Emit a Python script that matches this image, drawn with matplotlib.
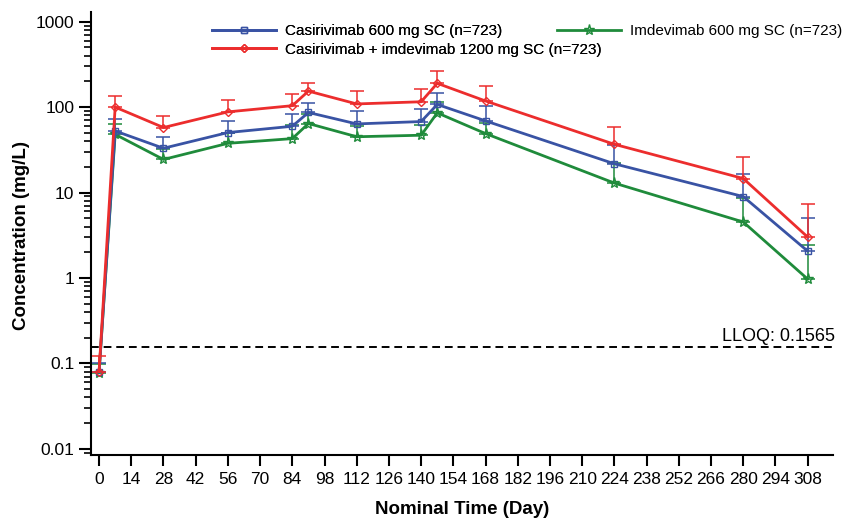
import numpy as np
import matplotlib
matplotlib.use("Agg")
import matplotlib.pyplot as plt
from matplotlib.ticker import LogLocator, FixedLocator, NullFormatter

plt.rcParams["font.family"] = ["Liberation Sans", "DejaVu Sans"]

# nominal sampling days
days = [0, 7, 28, 56, 84, 91, 112, 140, 147, 168, 224, 280, 308]

# mean concentrations (mg/L) and upper error bar ends
cas_mean = [0.079, 52.6, 33.0, 50.4, 59.7, 86.6, 63.6, 67.8, 107.5, 69.0, 21.7, 8.97, 2.06]
cas_top  = [0.100, 71.7, 44.7, 69.0, 83.0, 112.0, 89.8, 94.7, 146.0, 102.0, 36.4, 16.4, 5.04]

imd_mean = [0.078, 48.0, 24.4, 37.7, 42.8, 64.3, 45.0, 46.9, 85.7, 49.0, 12.9, 4.52, 0.97]
imd_top  = [0.099, 64.0, 32.0, 50.0, 62.5, 84.0, 60.0, 62.0, 115.0, 66.0, 22.4, 8.7, 2.44]

comb_mean = [0.080, 100.0, 57.7, 88.0, 104.0, 154.0, 109.0, 115.6, 190.0, 118.0, 36.7, 14.6, 3.01]
comb_top  = [0.121, 136.0, 79.0, 121.0, 143.0, 193.0, 153.0, 161.0, 265.0, 175.0, 59.0, 26.0, 7.36]

lloq = 0.1565
xticks = list(range(0, 309, 14))
yticks = [0.01, 0.1, 1, 10, 100, 1000]
ytick_labels = ["0.01", "0.1", "1", "10", "100", "1000"]

blue = "#3953a4"
green = "#1f8b3b"
red = "#ec2d2d"

fig = plt.figure(figsize=(8.51, 5.2), dpi=100)
ax = fig.add_axes([91 / 851, 1 - 455 / 520, (833 - 91) / 851, (455 - 12) / 520])


def draw(mean, top, color, marker, ms, label, z):
    mean = np.array(mean)
    top = np.array(top)
    yerr = [np.zeros_like(mean), top - mean]
    ax.errorbar(days, mean, yerr=yerr, fmt="none", ecolor=color, elinewidth=1.3,
                capsize=5, capthick=1.3, alpha=0.85, zorder=z)
    line, = ax.plot(days, mean, color=color, lw=2, marker=marker, ms=ms,
                    mfc="none", mec=color, mew=1.0, label=label, zorder=z + 1)
    return line


h_imd = draw(imd_mean, imd_top, green, "*", 8, "Imdevimab 600 mg SC (n=723)", 2)
h_cas = draw(cas_mean, cas_top, blue, "s", 5, "Casirivimab 600 mg SC (n=723)", 4)
h_comb = draw(comb_mean, comb_top, red, "D", 4, "Casirivimab + imdevimab 1200 mg SC (n=723)", 6)

# LLOQ reference line
ax.axhline(lloq, color="black", lw=1.4, ls=(0, (4, 2.5)), zorder=1)
ax.text(320, lloq * 1.06, "LLOQ: 0.1565", ha="right", va="bottom", fontsize=13,
        clip_on=False)

ax.set_yscale("log")
ax.set_ylim(0.00845, 1300)
ax.set_xlim(-3.5, 319)
ax.yaxis.set_major_locator(FixedLocator(yticks))
ax.set_yticklabels(ytick_labels)
ax.yaxis.set_minor_locator(LogLocator(base=10, subs=np.arange(2, 10)))
ax.yaxis.set_minor_formatter(NullFormatter())
ax.set_xticks(xticks)

for s in ["top", "right"]:
    ax.spines[s].set_visible(False)
for s in ["left", "bottom"]:
    ax.spines[s].set_linewidth(1.5)

ax.tick_params(axis="y", which="major", length=9, width=1.5, labelsize=12.5, pad=3)
ax.tick_params(axis="y", which="minor", length=5, width=1.2)
ax.tick_params(axis="x", which="major", length=8, width=1.5, labelsize=12.5, pad=4)

ax.set_ylabel("Concentration (mg/L)", fontsize=13.5, fontweight="bold")
ax.yaxis.set_label_coords(22 / 851, 1 - 236 / 520, transform=fig.transFigure)
ax.set_xlabel("Nominal Time (Day)", fontsize=13.5, fontweight="bold")
ax.xaxis.set_label_coords(462 / 851, 1 - 510 / 520, transform=fig.transFigure)
ax.xaxis.label.set_va("center")
ax.yaxis.label.set_va("center")

# legend laid out row-wise like the original
leg1 = fig.legend(handles=[h_cas, h_comb], loc="upper left",
                  bbox_to_anchor=(212 / 851, 1 - 24 / 520), frameon=False,
                  fontsize=11, handlelength=4.2, handletextpad=0.6,
                  labelspacing=0.3, borderpad=0, borderaxespad=0)
fig.add_artist(leg1)
fig.legend(handles=[h_imd], loc="upper left",
           bbox_to_anchor=(557 / 851, 1 - 24 / 520), frameon=False,
           fontsize=11, handlelength=4.2, handletextpad=0.6,
           borderpad=0, borderaxespad=0)

fig.savefig("out.png", dpi=100)
